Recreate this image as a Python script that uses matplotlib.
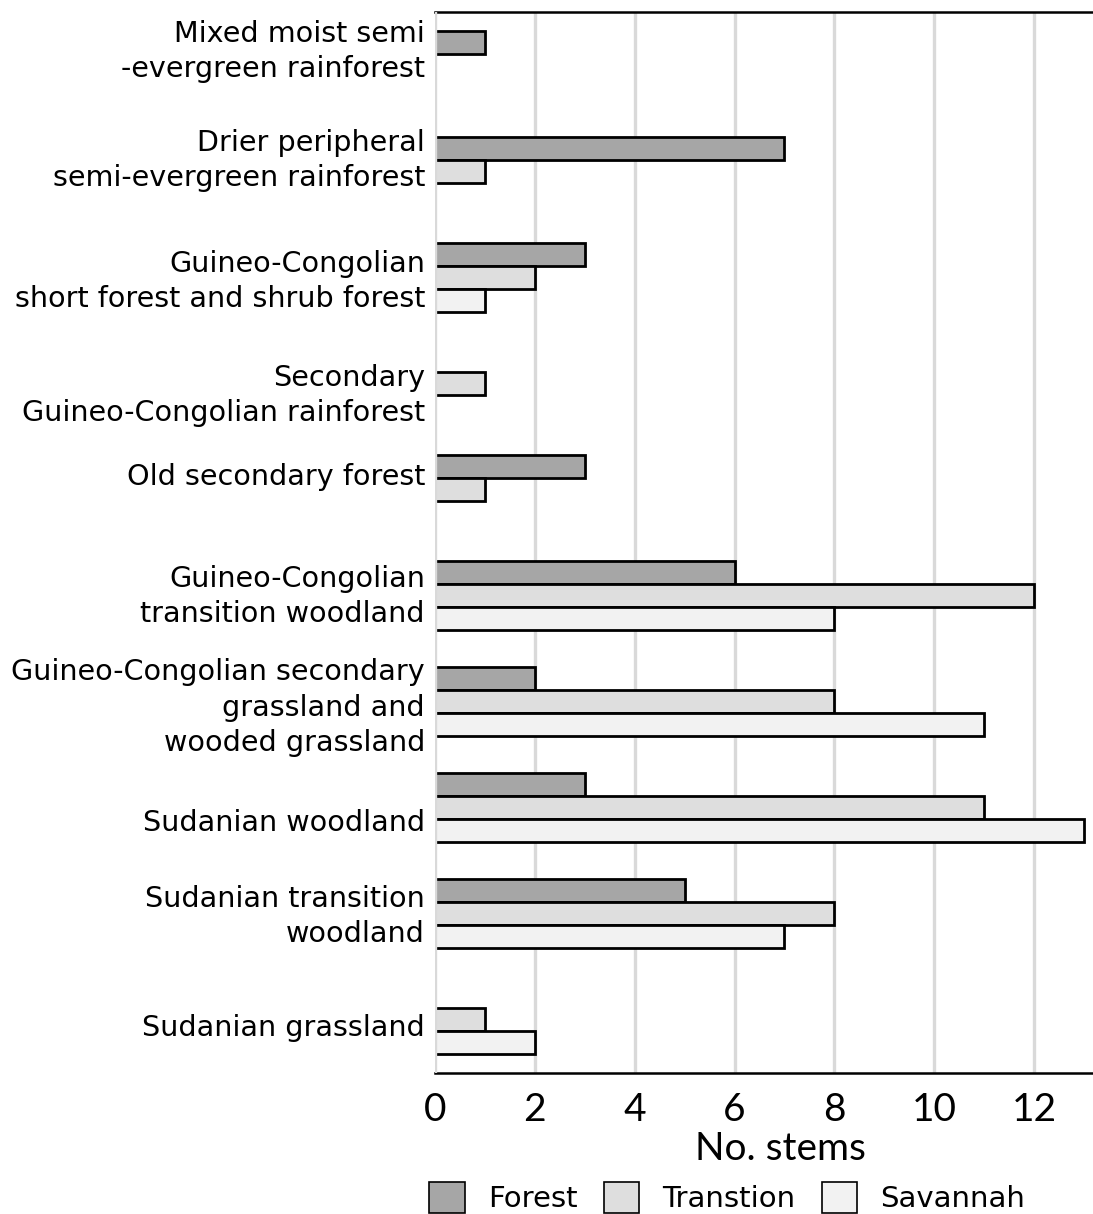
import numpy as np
import matplotlib
matplotlib.use("Agg")
import matplotlib.pyplot as plt
from matplotlib.patches import Patch
from matplotlib.transforms import ScaledTranslation

categories = [
    "Mixed moist semi\n-evergreen rainforest",
    "Drier peripheral\nsemi-evergreen rainforest",
    "Guineo-Congolian\nshort forest and shrub forest",
    "Secondary\nGuineo-Congolian rainforest",
    "Old secondary forest",
    "Guineo-Congolian\ntransition woodland",
    "Guineo-Congolian secondary\ngrassland and\nwooded grassland",
    "Sudanian woodland",
    "Sudanian transition\nwoodland",
    "Sudanian grassland",
]
series_names = ["Forest", "Transtion", "Savannah"]
forest = [1, 7, 3, 0, 3, 6, 2, 3, 5, 0]
transition = [0, 1, 2, 1, 1, 12, 8, 11, 8, 1]
savannah = [0, 0, 1, 0, 0, 8, 11, 13, 7, 2]
x_ticks = [0, 2, 4, 6, 8, 10, 12]

colors = ["#a6a6a6", "#dedede", "#f2f2f2"]
# small vertical nudges of the category labels (pixels, + = down)
label_nudge_px = [-13.5, -11, 4, 12, -12, 1, 6, 15, 3, 8]

W, H = 1093, 1214
fig = plt.figure(figsize=(W / 100, H / 100), dpi=100)
ax = fig.add_axes([435 / W, (H - 1073) / H, (W - 435) / W, (1073 - 12) / H])

n = len(categories)
y = np.arange(n)
bh = 0.217
offsets = [-bh, 0, bh]
for vals, off, col in zip([forest, transition, savannah], offsets, colors):
    v = np.array(vals, dtype=float)
    m = v > 0
    ax.barh(y[m] + off, v[m], height=bh, color=col, edgecolor="black",
            linewidth=2.0, zorder=3)

ax.set_ylim(n - 0.5, -0.5)
ax.set_xlim(0, 13.18)
ax.set_yticks(y)
ax.set_yticklabels([])
base = ax.get_yaxis_transform()
for yi, lab, d in zip(y, categories, label_nudge_px):
    tr = base + ScaledTranslation(-10 / 100, -d / 100, fig.dpi_scale_trans)
    ax.text(0, yi, lab, transform=tr, ha="right", va="center",
            fontsize=20.6, family="DejaVu Sans", linespacing=1.33,
            multialignment="right", clip_on=False)

ax.set_xticks(x_ticks)
ax.set_xticklabels([str(t) for t in x_ticks], fontsize=28, family="Lato")
ax.tick_params(axis="both", length=0)
ax.tick_params(axis="x", pad=14)

for t in x_ticks:
    ax.axvline(t, color="#d9d9d9", lw=2.4, zorder=1 if t else 5)

for s in ["left", "right"]:
    ax.spines[s].set_visible(False)
for s in ["top", "bottom"]:
    ax.spines[s].set_linewidth(1.8)
    ax.spines[s].set_color("black")

ax.set_xlabel("No. stems", fontsize=28, family="Lato")
ax.xaxis.set_label_coords((780 - 435) / (W - 435), -(1131 - 1073) / (1073 - 12))
ax.xaxis.label.set_va("top")

handles = [Patch(facecolor=c, edgecolor="black", linewidth=1.2) for c in colors]
leg = fig.legend(handles, series_names, loc="upper left",
                 bbox_to_anchor=(429 / W, 1 - 1182 / H), ncol=3, frameon=False,
                 prop={"family": "DejaVu Sans", "size": 21}, handlelength=1.23,
                 handleheight=1.25, handletextpad=0.79, columnspacing=0.89,
                 borderaxespad=0, borderpad=0)

fig.savefig("out.png", dpi=100)
